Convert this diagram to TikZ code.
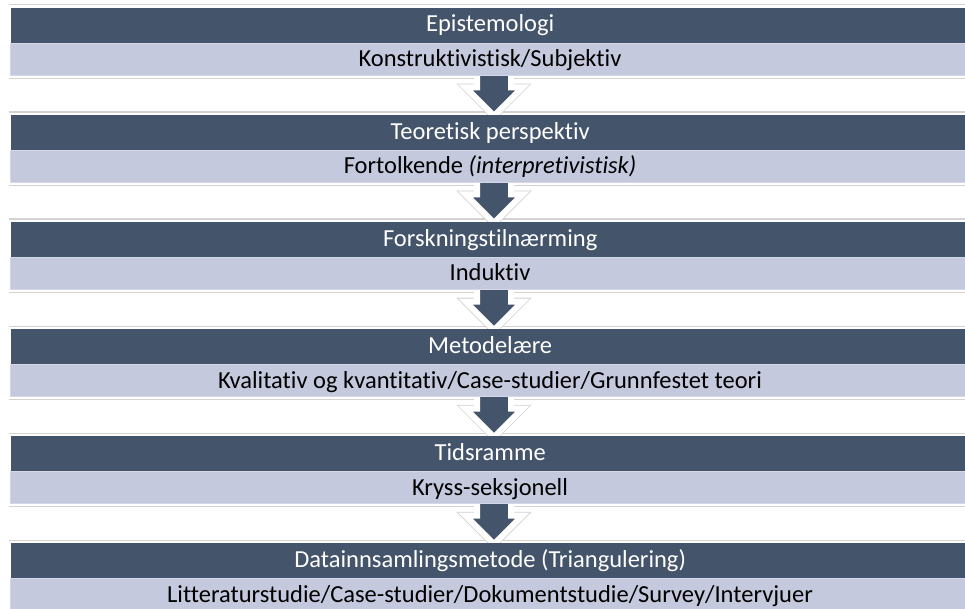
\documentclass[tikz,border=0pt]{standalone}
\usepackage{fontspec}
\setmainfont{Carlito}[Ligatures=NoCommon]
\usetikzlibrary{calc}
\definecolor{darkbg}{HTML}{44546A}
\definecolor{lightbg}{HTML}{C4C9DE}
\definecolor{lightedge}{HTML}{D3D7E7}
\definecolor{rulegray}{HTML}{D2D2D2}
\pgfdeclarelayer{bg}
\pgfsetlayers{bg,main}
\tikzset{
  headbox/.style={fill=darkbg, text=white, minimum width=958pt, minimum height=35pt,
    anchor=north west, inner sep=0pt, text height=17pt, text depth=3.2pt,
    font=\fontsize{24.5}{28}\selectfont},
  bodybox/.style={fill=lightbg, draw=lightedge, line width=1pt, minimum width=960pt,
    minimum height=32pt, anchor=north west, inner sep=0pt, text=black,
    text height=17.5pt, text depth=2.7pt, font=\fontsize{24.5}{28}\selectfont},
  sepline/.style={draw=rulegray, line width=1.2pt},
  flowarrow/.style={fill=darkbg, draw=white, line width=6pt, line join=miter},
  flowhalo/.style={draw=rulegray, line width=7.6pt, line join=miter}
}
\newcommand\myflowrow[4]{%
  \node[headbox] (h#1) at (11,#2) {#3};
  \node[bodybox] (b#1) at (9.5,#2+35.5) {#4};
  \begin{pgfonlayer}{bg}
    \draw[sepline] (9,#2-2.5) -- (965,#2-2.5);
    \draw[sepline] (9,#2+71) -- (965,#2+71);
  \end{pgfonlayer}
}
\newcommand\myflowarrow[1]{%
  \begin{pgfonlayer}{bg}
  \begin{scope}[shift={(b#1.south)}]
    \draw[flowhalo] (-13,11.5) -- (-24.5,11.5) -- (4,40) -- (32.5,11.5) -- (21,11.5);
    \filldraw[flowarrow] (-13,-8) -- (-13,11.5) -- (-24.5,11.5) -- (4,40) -- (32.5,11.5) -- (21,11.5) -- (21,-8) -- cycle;
  \end{scope}
  \end{pgfonlayer}
}
\begin{document}
\begin{tikzpicture}[x=1pt,y=-1pt]
\useasboundingbox (0,0) rectangle (965,608);
\myflowrow{0}{7.3}{Epistemologi}{Konstruktivistisk/Subjektiv}
\myflowrow{1}{114.4}{Teoretisk perspektiv}{Fortolkende \textit{(interpretivistisk)}}
\myflowrow{2}{221.5}{Forskningstilnærming}{Induktiv}
\myflowrow{3}{328.6}{Metodelære}{Kvalitativ og kvantitativ/Case-studier/Grunnfestet teori}
\myflowrow{4}{435.7}{Tidsramme}{Kryss-seksjonell}
\myflowrow{5}{542.8}{Datainnsamlingsmetode (Triangulering)}{Litteraturstudie/Case-studier/Dokumentstudie/Survey/Intervjuer}
\myflowarrow{0}
\myflowarrow{1}
\myflowarrow{2}
\myflowarrow{3}
\myflowarrow{4}
\end{tikzpicture}
\end{document}
